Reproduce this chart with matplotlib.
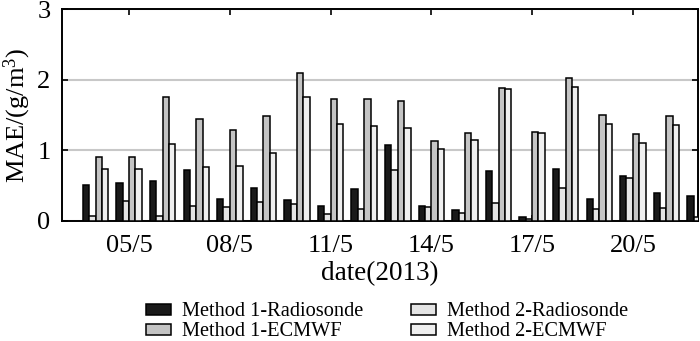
import numpy as np
import matplotlib.pyplot as plt

plt.rcParams['font.family'] = ['Liberation Serif', 'DejaVu Serif']
plt.rcParams['mathtext.fontset'] = 'custom'
plt.rcParams['mathtext.rm'] = 'Liberation Serif'
plt.rcParams['mathtext.default'] = 'regular'

# days of May 2013
days = [4, 5, 6, 7, 8, 9, 10, 11, 12, 13, 14, 15, 16, 17, 18, 19, 20, 21, 22]
tick_days = [5, 8, 11, 14, 17, 20]
tick_labels = ['05/5', '08/5', '11/5', '14/5', '17/5', '20/5']

m1_radiosonde = [0.50, 0.54, 0.565, 0.72, 0.30, 0.465, 0.29, 0.21, 0.455, 1.07,
                 0.21, 0.157, 0.70, 0.057, 0.74, 0.30, 0.64, 0.39, 0.35]
m2_radiosonde = [0.06, 0.28, 0.07, 0.21, 0.20, 0.26, 0.24, 0.095, 0.166, 0.72,
                 0.19, 0.105, 0.256, 0.03, 0.47, 0.16, 0.61, 0.185, 0.05]
m1_ecmwf = [0.90, 0.91, 1.76, 1.44, 1.29, 1.48, 2.10, 1.72, 1.72, 1.70,
            1.13, 1.24, 1.88, 1.26, 2.025, 1.50, 1.23, 1.49, 1.30]
m2_ecmwf = [0.73, 0.74, 1.09, 0.76, 0.78, 0.96, 1.755, 1.375, 1.34, 1.31,
            1.015, 1.14, 1.87, 1.24, 1.89, 1.37, 1.095, 1.36, 1.20]

series = [
    ('Method 1-Radiosonde', m1_radiosonde, '#1a1a1a'),
    ('Method 2-Radiosonde', m2_radiosonde, '#e4e4e4'),
    ('Method 1-ECMWF', m1_ecmwf, '#c4c4c4'),
    ('Method 2-ECMWF', m2_ecmwf, '#efefef'),
]

fig = plt.figure(figsize=(7, 3.41), dpi=100)
ax = fig.add_axes([0.088, 0.353, 0.9087, 0.6197])

x = np.array(days, dtype=float)
w = 0.19
bars = {}
for i, (name, vals, col) in enumerate(series):
    bars[name] = ax.bar(x + (i - 1.5) * w, vals, width=w, color=col,
                        edgecolor='black', linewidth=1.1, zorder=3)

ax.set_xlim(2.99, 21.93)
ax.set_ylim(0, 3)
ax.set_yticks([0, 1, 2, 3])
ax.set_xticks(tick_days)
ax.set_xticklabels(tick_labels)
ax.yaxis.grid(True, color='#c8c8c8', linewidth=1.5, zorder=0)
ax.tick_params(direction='in', top=True, right=True, length=4, width=1.2,
               labelsize=19)
ax.tick_params(axis='x', pad=10)
ax.tick_params(axis='y', pad=8)
for s in ax.spines.values():
    s.set_linewidth(1.4)

ax.set_xlabel('date(2013)', fontsize=19.5, labelpad=3)
ax.set_ylabel('MAE/(g/m$^3$)', fontsize=19, labelpad=3)

# legend in column order: M1-R, M1-E | M2-R, M2-E
order = ['Method 1-Radiosonde', 'Method 1-ECMWF', 'Method 2-Radiosonde', 'Method 2-ECMWF']
fig.legend([bars[n] for n in order], order, loc='upper center',
           bbox_to_anchor=(0.553, 0.143), ncol=2, frameon=False,
           fontsize=14.7, handlelength=1.25, handleheight=0.45,
           handletextpad=0.55, columnspacing=2.3, labelspacing=0.05,
           borderpad=0)

fig.savefig('out.png', dpi=100)
